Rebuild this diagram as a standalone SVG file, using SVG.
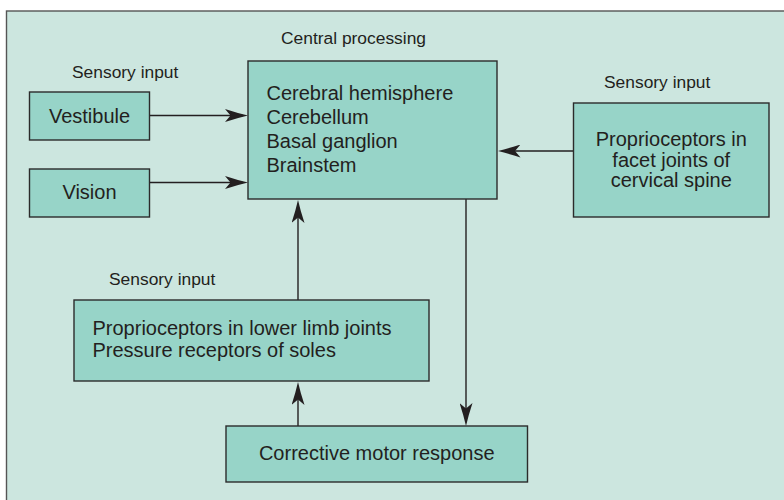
<svg xmlns="http://www.w3.org/2000/svg" width="784" height="500" viewBox="0 0 784 500">
<defs>
<style>
.box{fill:#97d4c8;stroke:#2b2b2b;stroke-width:1.4}
.t{font-family:"Liberation Sans",Arial,sans-serif;font-size:20px;fill:#231f20}
.lbl{font-family:"Liberation Sans",Arial,sans-serif;font-size:17.4px;fill:#231f20}
.c{text-anchor:middle}
.ln{stroke:#231f20;stroke-width:1.4;fill:none}
</style>
<marker id="ah" viewBox="0 0 23 13" markerWidth="23" markerHeight="13" refX="18" refY="6.5" markerUnits="userSpaceOnUse" orient="auto">
<path d="M0,0 Q12,4 23,6.5 Q12,9 0,13 L5.5,6.5 Z" fill="#231f20"/>
</marker>
</defs>
<rect x="0" y="0" width="784" height="500" fill="#ffffff"/>
<rect id="frame" x="6.5" y="11" width="800" height="500" fill="#cce6df" stroke="#555555" stroke-width="1.4"/>

<text class="lbl" x="281" y="44">Central processing</text>
<text class="lbl" x="72" y="78">Sensory input</text>
<text class="lbl" x="604" y="88">Sensory input</text>
<text class="lbl" x="109" y="285">Sensory input</text>

<g id="connectors">
<path class="ln" d="M149.5,115.5 H243" marker-end="url(#ah)"/>
<path class="ln" d="M149.5,182.5 H243" marker-end="url(#ah)"/>
<path class="ln" d="M573.5,151 H502.5" marker-end="url(#ah)"/>
<path class="ln" d="M298,300 V205" marker-end="url(#ah)"/>
<path class="ln" d="M298,426 V387" marker-end="url(#ah)"/>
<path class="ln" d="M466,199 V421" marker-end="url(#ah)"/>
</g>

<g id="central">
<rect class="box" x="248" y="61" width="249" height="138"/>
<text class="t" x="266.5" y="100">Cerebral hemisphere</text>
<text class="t" x="266.5" y="124">Cerebellum</text>
<text class="t" x="266.5" y="148">Basal ganglion</text>
<text class="t" x="266.5" y="172">Brainstem</text>
</g>

<g id="vestibule">
<rect class="box" x="29.5" y="92" width="120" height="48"/>
<text class="t c" x="89.5" y="123">Vestibule</text>
</g>

<g id="vision">
<rect class="box" x="29.5" y="169" width="120" height="48"/>
<text class="t c" x="89.5" y="199">Vision</text>
</g>

<g id="cervical">
<rect class="box" x="573.5" y="103" width="195.5" height="114"/>
<text class="t c" x="671.25" y="146">Proprioceptors in</text>
<text class="t c" x="671.25" y="166.5">facet joints of</text>
<text class="t c" x="671.25" y="187">cervical spine</text>
</g>

<g id="lowerlimb">
<rect class="box" x="74" y="300" width="355" height="81"/>
<text class="t" x="92.5" y="335">Proprioceptors in lower limb joints</text>
<text class="t" x="92.5" y="357">Pressure receptors of soles</text>
</g>

<g id="corrective">
<rect class="box" x="226" y="426" width="301.5" height="56"/>
<text class="t c" x="376.75" y="460">Corrective motor response</text>
</g>
</svg>
